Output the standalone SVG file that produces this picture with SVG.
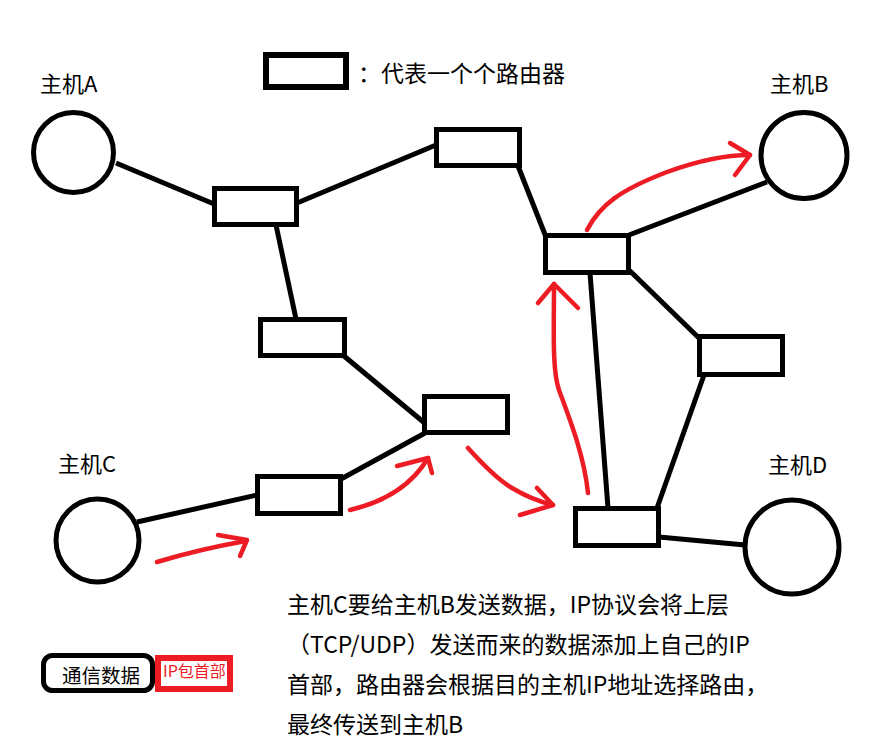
<svg xmlns="http://www.w3.org/2000/svg" width="883" height="751" viewBox="0 0 883 751">
<style>
.router{fill:#fff;stroke:#000;stroke-width:5}
.host{fill:#fff;stroke:#000;stroke-width:5}
.link{stroke:#000;stroke-width:5;fill:none}
.flow{stroke:#ED1C24;stroke-width:4.5;fill:none;stroke-linecap:round;stroke-linejoin:round}
.t{font-family:"Noto Sans CJK SC","Microsoft YaHei",sans-serif;fill:#000}
</style>
<rect width="883" height="751" fill="#fff"/>
<g id="connectors">
<line class="link" x1="116" y1="163" x2="214" y2="204"/>
<line class="link" x1="297" y1="203" x2="436" y2="145"/>
<line class="link" x1="276" y1="225" x2="296" y2="319"/>
<line class="link" x1="518" y1="166" x2="546" y2="237"/>
<line class="link" x1="629" y1="235" x2="767" y2="182"/>
<line class="link" x1="629" y1="270" x2="700" y2="339"/>
<line class="link" x1="590" y1="273" x2="608" y2="508"/>
<line class="link" x1="704" y1="375" x2="657" y2="508"/>
<line class="link" x1="344" y1="356" x2="427" y2="425"/>
<line class="link" x1="341" y1="479" x2="425" y2="433"/>
<line class="link" x1="137" y1="522" x2="257" y2="495"/>
<line class="link" x1="659" y1="537" x2="745" y2="545"/>
</g>
<g id="legend-router">
<rect x="266" y="55" width="80" height="32" fill="#fff" stroke="#000" stroke-width="6"/>
<text class="t" x="358" y="82" font-size="23">：代表一个个路由器</text>
</g>
<g id="hostA"><circle class="host" cx="73.5" cy="152.5" r="40"/><text class="t" x="40" y="92" font-size="22">主机A</text></g>
<g id="hostB"><circle class="host" cx="804" cy="155.5" r="43"/><text class="t" x="770" y="92" font-size="22">主机B</text></g>
<g id="hostC"><circle class="host" cx="97.5" cy="540.5" r="41.5"/><text class="t" x="58" y="472" font-size="22">主机C</text></g>
<g id="hostD"><circle class="host" cx="792" cy="547" r="47"/><text class="t" x="768" y="473" font-size="22">主机D</text></g>
<g id="r1"><rect class="router" x="214.5" y="188.5" width="82" height="36"/></g>
<g id="r2"><rect class="router" x="436.5" y="129.5" width="83" height="36"/></g>
<g id="r3"><rect class="router" x="545.5" y="235.5" width="83" height="37"/></g>
<g id="r4"><rect class="router" x="699.5" y="336.5" width="83" height="38"/></g>
<g id="r5"><rect class="router" x="575.5" y="508.5" width="83" height="37"/></g>
<g id="r6"><rect class="router" x="424.5" y="396.5" width="83" height="36"/></g>
<g id="r7"><rect class="router" x="257.5" y="476.5" width="83" height="37"/></g>
<g id="r8"><rect class="router" x="260.5" y="319.5" width="84" height="36"/></g>
<g id="flow">
<path class="flow" d="M157,562 Q200,549 246,541"/>
<path class="flow" d="M218,535 L247,540 L240,556"/>
<path class="flow" d="M350,510 Q405,497 428,458"/>
<path class="flow" d="M397,466 L428,458 L432,473"/>
<path class="flow" d="M468,448 Q495,478 512,488 Q532,500 553,505"/>
<path class="flow" d="M537,488 L553,505 L520,515"/>
<path class="flow" d="M588,493 C584,455 570,420 559,390 C552,370 554,330 554,284"/>
<path class="flow" d="M538,303 L554,284 L578,308"/>
<path class="flow" d="M587,230 C600,205 620,190 667,172 C700,160 730,155 750,155"/>
<path class="flow" d="M730,143 L750,155 L735,175"/>
</g>
<g id="legend-packet">
<rect x="43.5" y="655.5" width="109" height="35" rx="9" fill="#fff" stroke="#000" stroke-width="5"/>
<text class="t" x="62" y="683" font-size="19.5">通信数据</text>
<rect x="158" y="658" width="72" height="31" fill="#fff" stroke="#ED1C24" stroke-width="6"/>
<text class="t" x="163" y="677" font-size="16" style="fill:#ED1C24">IP包首部</text>
</g>
<g id="description">
<text class="t" x="287" y="613" font-size="23">主机C要给主机B发送数据，IP协议会将上层</text>
<text class="t" x="287" y="653" font-size="23">（TCP/UDP）发送而来的数据添加上自己的IP</text>
<text class="t" x="287" y="693" font-size="23">首部，路由器会根据目的主机IP地址选择路由，</text>
<text class="t" x="287" y="733" font-size="23">最终传送到主机B</text>
</g>
</svg>
